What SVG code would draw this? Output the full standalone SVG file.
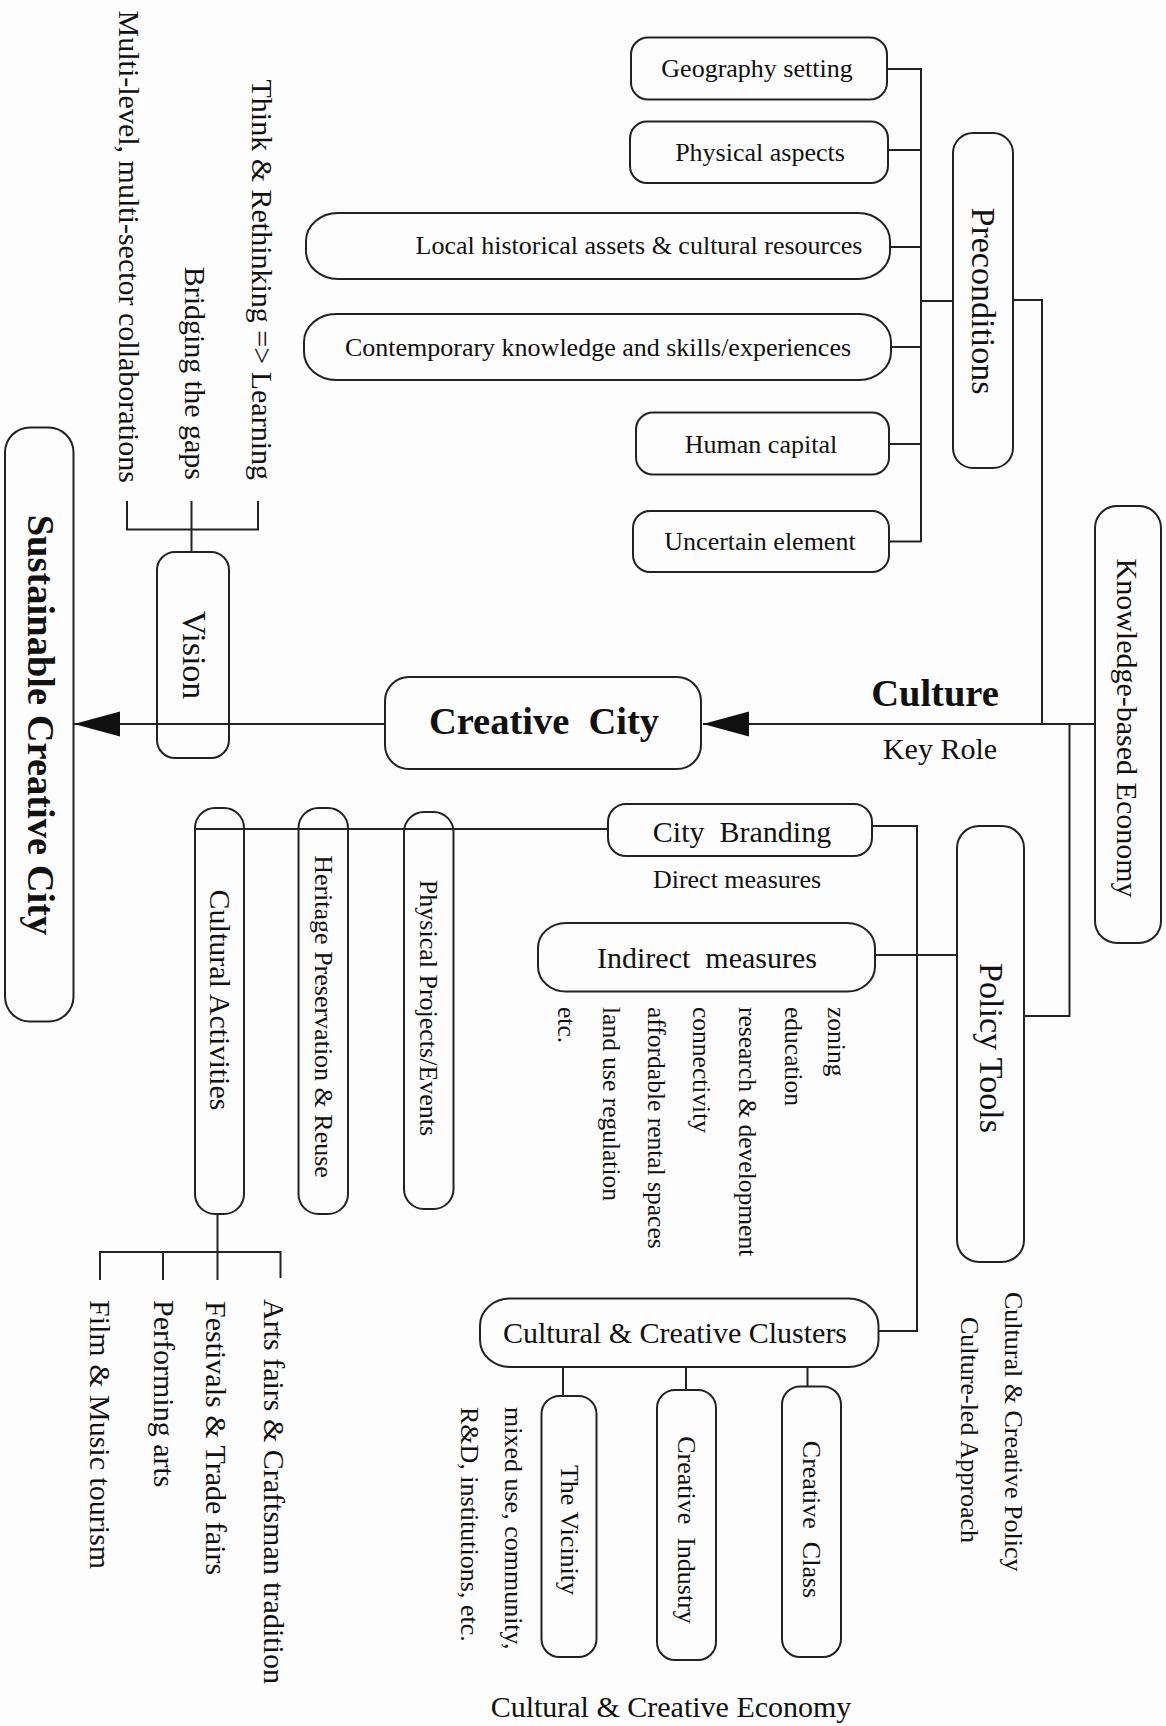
<svg xmlns="http://www.w3.org/2000/svg" width="1166" height="1726" viewBox="0 0 1166 1726">
<style>
.bx{fill:none;stroke:#222;stroke-width:2}
.ln{fill:none;stroke:#222;stroke-width:2}
.t{font-family:"Liberation Serif","Times New Roman",serif;fill:#111}
.b{font-weight:bold}
.s26{font-size:26px}
.s30{font-size:30px}
.s34{font-size:34px}
.s38{font-size:38.5px}
</style>
<defs>
<marker id="arr" markerUnits="userSpaceOnUse" markerWidth="48" markerHeight="27" refX="46" refY="12.5" orient="auto">
<path d="M0,0 L46,12.5 L0,25 z" fill="#111"/>
</marker>
</defs>
<rect width="1166" height="1726" fill="#fdfdfd"/>

<g id="connectors">
<path class="ln" d="M887 69 H921 M888 150 H921 M890 247 H921 M891 347 H921 M889 444 H921 M889 541.5 H921 M921 68 V542"/>
<path class="ln" d="M921 301 H953"/>
<path class="ln" d="M1013 300 H1042 V724"/>
<path class="ln" d="M1095 724 H703" marker-end="url(#arr)"/>
<path class="ln" d="M385 724 H74" marker-end="url(#arr)"/>
<path class="ln" d="M127 501 V529.5 H258 V501 M191.5 501 V552"/>
<path class="ln" d="M195 829 H608"/>
<path class="ln" d="M872 826 H917 V1331 H878.5"/>
<path class="ln" d="M875 955 H957"/>
<path class="ln" d="M1024 1016 H1069.5 V724"/>
<path class="ln" d="M217.5 1214 V1252 M100 1280 V1252 H280.5 V1278 M163 1252 V1280 M217.5 1252 V1280"/>
<path class="ln" d="M563 1367 V1396 M686 1367 V1390 M807.5 1367 V1386.5"/>
</g>

<g id="geography"><rect class="bx" x="631" y="37.5" width="256" height="62" rx="17"/><text class="t s26" x="757" y="77" text-anchor="middle">Geography setting</text></g>
<g id="physical"><rect class="bx" x="630" y="121.5" width="258" height="61.5" rx="17"/><text class="t s26" x="760" y="161" text-anchor="middle">Physical aspects</text></g>
<g id="local"><rect class="bx" x="306" y="213" width="584" height="66" rx="32" ry="28"/><text class="t s26" x="639" y="254" text-anchor="middle">Local historical assets &amp; cultural resources</text></g>
<g id="contemporary"><rect class="bx" x="304" y="314" width="587" height="66" rx="32" ry="28"/><text class="t s26" x="598" y="356" text-anchor="middle">Contemporary knowledge and skills/experiences</text></g>
<g id="human"><rect class="bx" x="636" y="412.5" width="253" height="62" rx="17"/><text class="t s26" x="761" y="453" text-anchor="middle">Human capital</text></g>
<g id="uncertain"><rect class="bx" x="633" y="511" width="256" height="61" rx="17"/><text class="t s26" x="760" y="550" text-anchor="middle">Uncertain element</text></g>

<g id="preconditions"><rect class="bx" x="953" y="133" width="60" height="335" rx="20"/><text class="t s34" transform="translate(972,301) rotate(90)" text-anchor="middle">Preconditions</text></g>

<g id="knowledge"><rect class="bx" x="1095" y="506" width="66" height="437" rx="22"/><text class="t s30" transform="translate(1117,728) rotate(90)" text-anchor="middle">Knowledge-based Economy</text></g>

<g id="culture"><text class="t b s38" x="935" y="706" text-anchor="middle">Culture</text><text class="t s30" x="940" y="759" text-anchor="middle">Key Role</text></g>

<g id="creative-city"><rect class="bx" x="385" y="677" width="316" height="92" rx="24"/><text class="t b s38" x="544" y="734" text-anchor="middle" xml:space="preserve">Creative  City</text></g>

<g id="vision"><rect class="bx" x="157" y="552" width="72" height="206" rx="18"/><text class="t s34" transform="translate(183,655) rotate(90)" text-anchor="middle">Vision</text></g>

<g id="sustainable"><rect class="bx" x="5" y="427.5" width="68.5" height="594" rx="25"/><text class="t b s38" transform="translate(28,725) rotate(90)" text-anchor="middle">Sustainable Creative City</text></g>

<g id="vision-items">
<text class="t s30" transform="translate(252,480) rotate(90)" text-anchor="end">Think &amp; Rethinking =&gt; Learning</text>
<text class="t s30" transform="translate(185,480) rotate(90)" text-anchor="end">Bridging the gaps</text>
<text class="t s30" transform="translate(119,483) rotate(90)" text-anchor="end">Multi-level, multi-sector collaborations</text>
</g>

<g id="city-branding"><rect class="bx" x="608" y="804" width="264" height="52" rx="18"/><text class="t s30" x="742" y="842" text-anchor="middle" xml:space="preserve">City  Branding</text><text class="t s26" x="737" y="888" text-anchor="middle">Direct measures</text></g>

<g id="indirect"><rect class="bx" x="538" y="923" width="337" height="68.5" rx="28" ry="25"/><text class="t s30" x="707" y="968" text-anchor="middle" xml:space="preserve">Indirect  measures</text></g>

<g id="indirect-items" style="font-size:25.5px">
<text class="t" transform="translate(828,1007) rotate(90)">zoning</text>
<text class="t" transform="translate(785,1007) rotate(90)">education</text>
<text class="t" transform="translate(739,1007) rotate(90)">research &amp; development</text>
<text class="t" transform="translate(693,1007) rotate(90)">connectivity</text>
<text class="t" transform="translate(648,1007) rotate(90)">affordable rental spaces</text>
<text class="t" transform="translate(603,1007) rotate(90)">land use regulation</text>
<text class="t" transform="translate(558,1007) rotate(90)">etc.</text>
</g>

<g id="policy-tools"><rect class="bx" x="957" y="826" width="67" height="436" rx="22"/><text class="t s34" transform="translate(980,1048) rotate(90)" text-anchor="middle">Policy Tools</text></g>

<g id="cultural-activities"><rect class="bx" x="195" y="808" width="49" height="406" rx="20"/><text class="t s30" transform="translate(209.5,1000) rotate(90)" text-anchor="middle">Cultural Activities</text></g>
<g id="heritage"><rect class="bx" x="298.5" y="808" width="49.5" height="406" rx="20"/><text class="t s26" transform="translate(314.5,1016.5) rotate(90)" text-anchor="middle">Heritage Preservation &amp; Reuse</text></g>
<g id="physical-projects"><rect class="bx" x="404" y="812" width="49.5" height="397" rx="20"/><text class="t s26" transform="translate(420,1008) rotate(90)" text-anchor="middle">Physical Projects/Events</text></g>

<g id="activity-items">
<text class="t s30" transform="translate(264,1299) rotate(90)">Arts fairs &amp; Craftsman tradition</text>
<text class="t s30" transform="translate(206,1301) rotate(90)">Festivals &amp; Trade fairs</text>
<text class="t s30" transform="translate(153.5,1300) rotate(90)">Performing arts</text>
<text class="t s30" transform="translate(90,1300) rotate(90)">Film &amp; Music tourism</text>
</g>

<g id="clusters"><rect class="bx" x="480" y="1298.5" width="398.5" height="68.5" rx="30" ry="27"/><text class="t s30" x="675" y="1343" text-anchor="middle">Cultural &amp; Creative Clusters</text></g>

<g id="vicinity"><rect class="bx" x="541.5" y="1396" width="55" height="261" rx="18"/><text class="t s26" transform="translate(560.5,1530) rotate(90)" text-anchor="middle">The Vicinity</text></g>
<g id="creative-industry"><rect class="bx" x="657" y="1390" width="59" height="270" rx="18"/><text class="t s26" transform="translate(677.5,1530) rotate(90)" text-anchor="middle" xml:space="preserve">Creative  Industry</text></g>
<g id="creative-class"><rect class="bx" x="782" y="1386.5" width="59" height="270.5" rx="18"/><text class="t s26" transform="translate(803,1519.5) rotate(90)" text-anchor="middle" xml:space="preserve">Creative  Class</text></g>

<g id="vicinity-notes">
<text class="t s26" transform="translate(505,1407) rotate(90)">mixed use, community,</text>
<text class="t s26" transform="translate(460.5,1407) rotate(90)">R&amp;D, institutions, etc.</text>
</g>

<g id="policy-notes">
<text class="t s26" transform="translate(1005,1292) rotate(90)">Cultural &amp; Creative Policy</text>
<text class="t s26" transform="translate(961,1317) rotate(90)">Culture-led Approach</text>
</g>

<g id="economy"><text class="t s30" x="671" y="1717" text-anchor="middle">Cultural &amp; Creative Economy</text></g>
</svg>
